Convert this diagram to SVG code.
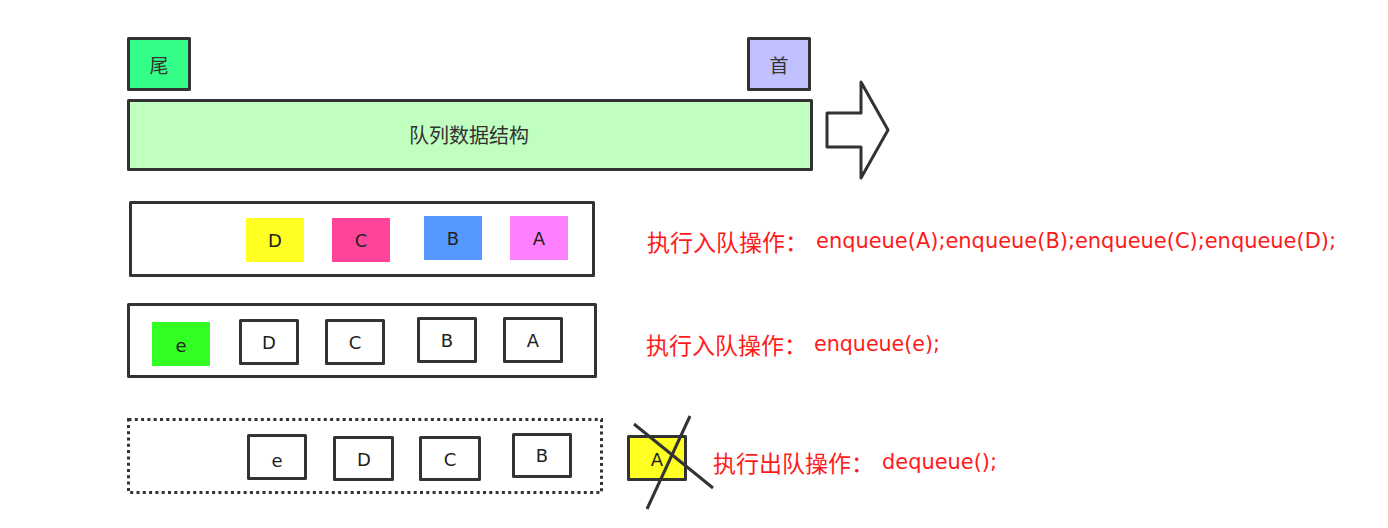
<svg xmlns="http://www.w3.org/2000/svg" width="1388" height="528" viewBox="0 0 1388 528">
<style>
.box{stroke:#333;stroke-width:3;stroke-linejoin:round}
.lbl{font-family:"Noto Sans CJK SC","Noto Sans",sans-serif;font-size:19px;fill:#333;text-anchor:middle;dominant-baseline:central}
.big{font-size:20px}
.let{font-family:"DejaVu Sans","Liberation Sans",sans-serif;font-size:18px;fill:#222;text-anchor:middle;dominant-baseline:central}
.red{font-family:"Noto Sans CJK SC",sans-serif;font-size:23px;fill:#ff1a1a;dominant-baseline:central}
.redl{font-family:"DejaVu Sans","Liberation Sans",sans-serif;font-size:21px;fill:#ff1a1a;dominant-baseline:central}
</style>
<rect width="1388" height="528" fill="#fff"/>
<g id="tail"><rect class="box" x="128.5" y="38.5" width="61" height="51" fill="#33ff88"/><text class="lbl" x="159" y="64">尾</text></g>
<g id="head"><rect class="box" x="748.5" y="38.5" width="61" height="51" fill="#c0c0ff"/><text class="lbl" x="779" y="64">首</text></g>
<g id="queue"><rect class="box" x="128.5" y="100.5" width="683" height="69" fill="#c0ffc0"/><text class="lbl big" x="469" y="134">队列数据结构</text></g>
<g id="connectors"><polygon class="box" points="827,113 861,113 861,82 888,130 861,178 861,147 827,147" fill="#fff"/></g>
<g id="row1">
<rect class="box" x="130.5" y="202.5" width="463" height="73" fill="#fff"/>
<rect x="246" y="218" width="58" height="44" fill="#ffff22"/><text class="let" x="275" y="240">D</text>
<rect x="332" y="218" width="58" height="44" fill="#ff4499"/><text class="let" x="361" y="240">C</text>
<rect x="424" y="216" width="58" height="44" fill="#5599ff"/><text class="let" x="453" y="238">B</text>
<rect x="510" y="216" width="58" height="44" fill="#ff80ff"/><text class="let" x="539" y="238">A</text>
</g>
<g id="text1"><text class="red" x="647" y="241">执行入队操作：</text><text class="redl" x="816" y="241" textLength="520" lengthAdjust="spacingAndGlyphs">enqueue(A);enqueue(B);enqueue(C);enqueue(D);</text></g>
<g id="row2">
<rect class="box" x="128.5" y="304.5" width="467" height="72" fill="#fff"/>
<rect x="152" y="322" width="58" height="44" fill="#33ff22"/><text class="let" x="181" y="345">e</text>
<rect class="box" x="240.5" y="320.5" width="57" height="43" fill="#fff"/><text class="let" x="269" y="342">D</text>
<rect class="box" x="326.5" y="320.5" width="57" height="43" fill="#fff"/><text class="let" x="355" y="342">C</text>
<rect class="box" x="418.5" y="318.5" width="57" height="43" fill="#fff"/><text class="let" x="447" y="340">B</text>
<rect class="box" x="504.5" y="318.5" width="57" height="43" fill="#fff"/><text class="let" x="533" y="340">A</text>
</g>
<g id="text2"><text class="red" x="646" y="344">执行入队操作：</text><text class="redl" x="814" y="344" textLength="126" lengthAdjust="spacingAndGlyphs">enqueue(e);</text></g>
<g id="row3">
<rect x="128.5" y="419.5" width="473" height="73" fill="#fff" stroke="#333" stroke-width="3" stroke-dasharray="3 3.3"/>
<rect class="box" x="248.5" y="435.5" width="57" height="43" fill="#fff"/><text class="let" x="277" y="460">e</text>
<rect class="box" x="334.5" y="437.5" width="58" height="42" fill="#fff"/><text class="let" x="364" y="459">D</text>
<rect class="box" x="420.5" y="437.5" width="59" height="42" fill="#fff"/><text class="let" x="450" y="459">C</text>
<rect class="box" x="513.5" y="434.5" width="57" height="42" fill="#fff"/><text class="let" x="542" y="455">B</text>
</g>
<g id="removed">
<rect class="box" x="628.5" y="436.5" width="57" height="43" fill="#ffff22"/><text class="let" x="657" y="459">A</text>
<line x1="634" y1="424" x2="713" y2="488" stroke="#333" stroke-width="3"/>
<line x1="690" y1="416" x2="647" y2="509" stroke="#333" stroke-width="3"/>
</g>
<g id="text3"><text class="red" x="713" y="462">执行出队操作：</text><text class="redl" x="882" y="462" textLength="115" lengthAdjust="spacingAndGlyphs">dequeue();</text></g>
</svg>
